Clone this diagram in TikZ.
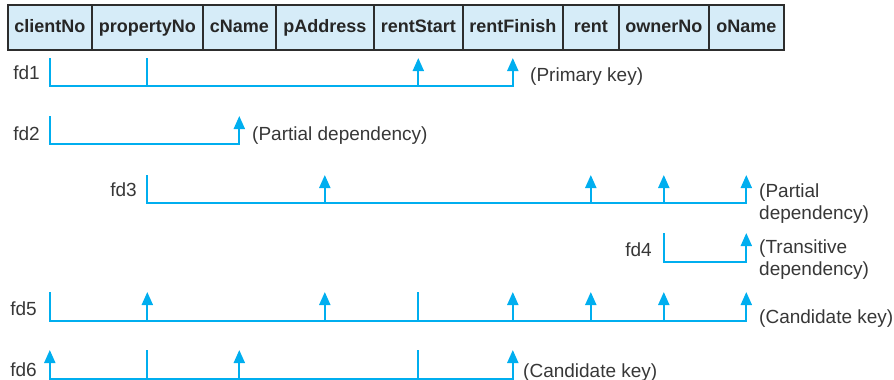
\documentclass[tikz,border=0pt]{standalone}
\usepackage{fontspec}
\setmainfont{Liberation Sans}
\usetikzlibrary{arrows.meta}
\definecolor{fdblue}{RGB}{0,174,239}
\definecolor{cellfill}{RGB}{214,236,248}
\definecolor{cellborder}{RGB}{45,45,45}
\definecolor{txtgray}{RGB}{55,55,55}
\begin{document}
\begin{tikzpicture}[x=1pt,y=-1pt,
  cell/.style={draw=cellborder, line width=1.6pt, fill=cellfill, minimum height=45pt,
    inner sep=0pt, anchor=west, text height=13pt, text depth=4pt,
    font=\fontsize{18}{20}\selectfont\bfseries, text=black!85},
  fdline/.style={draw=fdblue, line width=2pt},
  tip/.style={-{Triangle[width=11pt,length=13pt]}},
  tips/.style={{Triangle[width=11pt,length=13pt]}-{Triangle[width=11pt,length=13pt]}},
  lbl/.style={font=\fontsize{19}{22}\selectfont, text=txtgray, inner sep=0pt, align=left}
]
\useasboundingbox (0,0) rectangle (894,380);

% table header
\node[cell, minimum width=84pt]  (clientNo)   at (7,27.5)   {clientNo};
\node[cell, minimum width=111pt] (propertyNo) at (91,27.5)  {propertyNo};
\node[cell, minimum width=73pt]  (cName)      at (202,27.5) {cName};
\node[cell, minimum width=98pt]  (pAddress)   at (275,27.5) {pAddress};
\node[cell, minimum width=89pt]  (rentStart)  at (373,27.5) {rentStart};
\node[cell, minimum width=100pt] (rentFinish) at (462,27.5) {rentFinish};
\node[cell, minimum width=56pt]  (rent)       at (562,27.5) {rent};
\node[cell, minimum width=90pt]  (ownerNo)    at (618,27.5) {ownerNo};
\node[cell, minimum width=75pt]  (oName)      at (708,27.5) {oName};

% row levels (top / bottom)
\coordinate (t1) at (0,58);  \coordinate (b1) at (0,86);
\coordinate (t2) at (0,116); \coordinate (b2) at (0,144);
\coordinate (t3) at (0,175); \coordinate (b3) at (0,203);
\coordinate (t4) at (0,233); \coordinate (b4) at (0,262);
\coordinate (t5) at (0,292); \coordinate (b5) at (0,321);
\coordinate (t6) at (0,350); \coordinate (b6) at (0,378.5);

% fd1
\draw[fdline, tip] (clientNo |- t1) -- (clientNo |- b1) -| (rentFinish |- t1);
\draw[fdline] (propertyNo |- b1) -- (propertyNo |- t1);
\draw[fdline, tip] (rentStart |- b1) -- (rentStart |- t1);
\node[lbl, anchor=base east] (l1) at (40,79.5) {fd1};
\node[lbl, anchor=base west] (r1) at (530,81.5) {(Primary key)};

% fd2
\draw[fdline, tip] (clientNo |- t2) -- (clientNo |- b2) -| (cName |- t2);
\node[lbl, anchor=base east] (l2) at (40,140.5) {fd2};
\node[lbl, anchor=base west] (r2) at (252,140) {(Partial dependency)};

% fd3
\draw[fdline, tip] (propertyNo |- t3) -- (propertyNo |- b3) -| (oName |- t3);
\draw[fdline, tip] (pAddress |- b3) -- (pAddress |- t3);
\draw[fdline, tip] (rent |- b3) -- (rent |- t3);
\draw[fdline, tip] (ownerNo |- b3) -- (ownerNo |- t3);
\node[lbl, anchor=base east] (l3) at (137,196.7) {fd3};
\node[lbl, anchor=base west] (r3) at (759,219) {(Partial\\dependency)};

% fd4
\draw[fdline, tip] (ownerNo |- t4) -- (ownerNo |- b4) -| (oName |- t4);
\node[lbl, anchor=base east] (l4) at (652,256.7) {fd4};
\node[lbl, anchor=base west] (r4) at (759,275) {(Transitive\\dependency)};

% fd5
\draw[fdline, tip] (clientNo |- t5) -- (clientNo |- b5) -| (oName |- t5);
\draw[fdline, tip] (propertyNo |- b5) -- (propertyNo |- t5);
\draw[fdline, tip] (pAddress |- b5) -- (pAddress |- t5);
\draw[fdline] (rentStart |- b5) -- (rentStart |- t5);
\draw[fdline, tip] (rentFinish |- b5) -- (rentFinish |- t5);
\draw[fdline, tip] (rent |- b5) -- (rent |- t5);
\draw[fdline, tip] (ownerNo |- b5) -- (ownerNo |- t5);
\node[lbl, anchor=base east] (l5) at (37,315) {fd5};
\node[lbl, anchor=base west] (r5) at (759,323) {(Candidate key)};

% fd6
\draw[fdline, tips] (clientNo |- t6) -- (clientNo |- b6) -| (rentFinish |- t6);
\draw[fdline] (propertyNo |- b6) -- (propertyNo |- t6);
\draw[fdline, tip] (cName |- b6) -- (cName |- t6);
\draw[fdline] (rentStart |- b6) -- (rentStart |- t6);
\node[lbl, anchor=base east] (l6) at (37,376.7) {fd6};
\node[lbl, anchor=base west] (r6) at (523,377) {(Candidate key)};
\end{tikzpicture}
\end{document}
